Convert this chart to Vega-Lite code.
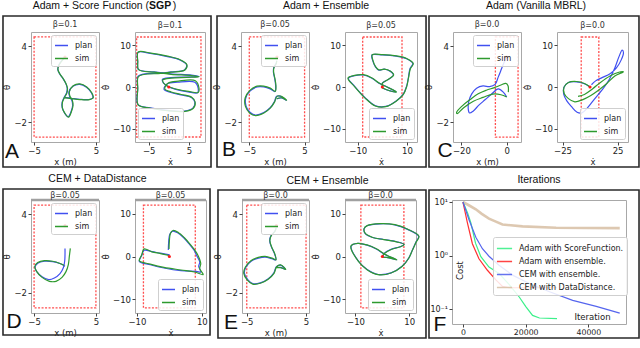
{
"$schema":"https://vega.github.io/schema/vega-lite/v6.json",
"background":"white",
"padding":{"left":1,"top":0,"right":1,"bottom":1},
"config":{
 "font":"DejaVu Sans",
 "view":{"stroke":"#a8a8a8","strokeWidth":1},
 "axis":{"grid":false,"domain":false,"labelOverlap":false,"labelFontSize":8.5,"titleFontSize":8.5,"titleFontWeight":"normal","labelColor":"#222","titleColor":"#222","tickColor":"#444","tickSize":3,"labelPadding":1.5,"titlePadding":2,"labelFont":"DejaVu Sans","titleFont":"DejaVu Sans"},
 "title":{"fontSize":10.5,"fontWeight":"normal","color":"#111","offset":4,"font":"Liberation Sans"},
 "text":{"font":"DejaVu Sans"},
 "legend":{"title":null,"symbolType":"stroke","symbolStrokeWidth":1.5,"symbolSize":170,"labelFontSize":8,"labelFont":"DejaVu Sans","labelColor":"#222","strokeColor":"#cfcfcf","fillColor":"rgba(255,255,255,0.85)","padding":3,"cornerRadius":2,"offset":3,"rowPadding":1,"labelOffset":6}
},
"datasets":{
"bounds":[
{"p":"A1","x1":-5,"x2":5,"y1":-3.1416,"y2":4.7124,"tx":0,"ty":3.1416},
{"p":"A2","x1":-8,"x2":8,"y1":-12,"y2":12,"tx":0,"ty":0},
{"p":"B1","x1":-5,"x2":5,"y1":-3.1416,"y2":4.7124,"tx":0,"ty":3.1416},
{"p":"B2","x1":-8,"x2":8,"y1":-12,"y2":12,"tx":0,"ty":0},
{"p":"C1","x1":-5,"x2":5,"y1":-3.1416,"y2":4.7124,"tx":0,"ty":3.1416},
{"p":"C2","x1":-8,"x2":8,"y1":-12,"y2":12,"tx":0,"ty":0},
{"p":"D1","x1":-5,"x2":5,"y1":-3.1416,"y2":4.7124,"tx":0,"ty":3.1416},
{"p":"D2","x1":-8,"x2":8,"y1":-12,"y2":12,"tx":0,"ty":0},
{"p":"E1","x1":-5,"x2":5,"y1":-3.1416,"y2":4.7124,"tx":0,"ty":3.1416},
{"p":"E2","x1":-8,"x2":8,"y1":-12,"y2":12,"tx":0,"ty":0}
],
"traj":[
{"p":"A1","s":"plan","i":0,"x":0,"y":3.14},{"p":"A1","s":"plan","i":1,"x":-0.46,"y":2.9},{"p":"A1","s":"plan","i":2,"x":-1.01,"y":2.52},{"p":"A1","s":"plan","i":3,"x":-1.17,"y":2.17},{"p":"A1","s":"plan","i":4,"x":-0.85,"y":1.81},{"p":"A1","s":"plan","i":5,"x":-0.3,"y":1.43},{"p":"A1","s":"plan","i":6,"x":0.14,"y":1.05},{"p":"A1","s":"plan","i":7,"x":0.36,"y":0.69},{"p":"A1","s":"plan","i":8,"x":0.25,"y":0.31},{"p":"A1","s":"plan","i":9,"x":-0.14,"y":-0.03},{"p":"A1","s":"plan","i":10,"x":-0.46,"y":-0.41},{"p":"A1","s":"plan","i":11,"x":-0.46,"y":-0.84},{"p":"A1","s":"plan","i":12,"x":-0.08,"y":-1.25},{"p":"A1","s":"plan","i":13,"x":0.52,"y":-1.55},{"p":"A1","s":"plan","i":14,"x":0.96,"y":-1.17},{"p":"A1","s":"plan","i":15,"x":1.23,"y":-0.69},{"p":"A1","s":"plan","i":16,"x":1.12,"y":-0.28},{"p":"A1","s":"plan","i":17,"x":0.74,"y":0.05},{"p":"A1","s":"plan","i":18,"x":0.63,"y":0.38},{"p":"A1","s":"plan","i":19,"x":1.28,"y":0.84},{"p":"A1","s":"plan","i":20,"x":2.38,"y":0.99},{"p":"A1","s":"plan","i":21,"x":3.47,"y":0.76},{"p":"A1","s":"plan","i":22,"x":4.29,"y":0.31},{"p":"A1","s":"plan","i":23,"x":4.51,"y":-0.08},{"p":"A1","s":"plan","i":24,"x":3.74,"y":-0.2},{"p":"A1","s":"plan","i":25,"x":2.38,"y":-0.18},{"p":"A1","s":"plan","i":26,"x":1.01,"y":-0.1},{"p":"A1","s":"plan","i":27,"x":-0.19,"y":-0.03},
{"p":"A2","s":"plan","i":0,"x":0,"y":0},{"p":"A2","s":"plan","i":1,"x":-1.36,"y":1.0},{"p":"A2","s":"plan","i":2,"x":-1.62,"y":1.77},{"p":"A2","s":"plan","i":3,"x":0.51,"y":2.23},{"p":"A2","s":"plan","i":4,"x":4.34,"y":2.38},{"p":"A2","s":"plan","i":5,"x":7.49,"y":2.54},{"p":"A2","s":"plan","i":6,"x":5.62,"y":2.85},{"p":"A2","s":"plan","i":7,"x":0.51,"y":3.15},{"p":"A2","s":"plan","i":8,"x":-3.74,"y":3.62},{"p":"A2","s":"plan","i":9,"x":-7.57,"y":4.23},{"p":"A2","s":"plan","i":10,"x":-7.74,"y":6.15},{"p":"A2","s":"plan","i":11,"x":-7.66,"y":8.31},{"p":"A2","s":"plan","i":12,"x":-4.6,"y":8.08},{"p":"A2","s":"plan","i":13,"x":-0.34,"y":7.31},{"p":"A2","s":"plan","i":14,"x":2.64,"y":6.54},{"p":"A2","s":"plan","i":15,"x":4.43,"y":5.31},{"p":"A2","s":"plan","i":16,"x":3.91,"y":4.08},{"p":"A2","s":"plan","i":17,"x":0.51,"y":3.62},{"p":"A2","s":"plan","i":18,"x":-2.04,"y":3.31},{"p":"A2","s":"plan","i":19,"x":-6.3,"y":3.08},{"p":"A2","s":"plan","i":20,"x":-7.66,"y":2.54},{"p":"A2","s":"plan","i":21,"x":-7.74,"y":-0.38},{"p":"A2","s":"plan","i":22,"x":-7.66,"y":-4.23},{"p":"A2","s":"plan","i":23,"x":-4.6,"y":-5.0},{"p":"A2","s":"plan","i":24,"x":-0.34,"y":-5.62},{"p":"A2","s":"plan","i":25,"x":3.91,"y":-5.77},{"p":"A2","s":"plan","i":26,"x":6.04,"y":-5.0},{"p":"A2","s":"plan","i":27,"x":6.47,"y":-3.62},{"p":"A2","s":"plan","i":28,"x":5.62,"y":-2.54},{"p":"A2","s":"plan","i":29,"x":3.06,"y":-1.92},{"p":"A2","s":"plan","i":30,"x":0.51,"y":-1.31},{"p":"A2","s":"plan","i":31,"x":-1.19,"y":-0.54},{"p":"A2","s":"plan","i":32,"x":-0.34,"y":0.77},{"p":"A2","s":"plan","i":33,"x":2.21,"y":1.15},{"p":"A2","s":"plan","i":34,"x":6.47,"y":1.15},{"p":"A2","s":"plan","i":35,"x":7.32,"y":-0.38},{"p":"A2","s":"plan","i":36,"x":7.15,"y":-1.38},{"p":"A2","s":"plan","i":37,"x":4.77,"y":-1.15},{"p":"A2","s":"plan","i":38,"x":2.21,"y":-0.69},{"p":"A2","s":"plan","i":39,"x":0.26,"y":-0.08},
{"p":"B1","s":"plan","i":0,"x":-0.06,"y":2.85},{"p":"B1","s":"plan","i":1,"x":-0.12,"y":2.67},{"p":"B1","s":"plan","i":2,"x":-0.58,"y":2.29},{"p":"B1","s":"plan","i":3,"x":-0.64,"y":1.96},{"p":"B1","s":"plan","i":4,"x":-0.41,"y":1.45},{"p":"B1","s":"plan","i":5,"x":-0.23,"y":0.89},{"p":"B1","s":"plan","i":6,"x":-0.35,"y":0.43},{"p":"B1","s":"plan","i":7,"x":-1.22,"y":0.64},{"p":"B1","s":"plan","i":8,"x":-2.38,"y":0.79},{"p":"B1","s":"plan","i":9,"x":-3.55,"y":0.79},{"p":"B1","s":"plan","i":10,"x":-4.83,"y":0.48},{"p":"B1","s":"plan","i":11,"x":-5.64,"y":-0.08},{"p":"B1","s":"plan","i":12,"x":-5.58,"y":-0.71},{"p":"B1","s":"plan","i":13,"x":-4.83,"y":-1.22},{"p":"B1","s":"plan","i":14,"x":-3.84,"y":-1.42},{"p":"B1","s":"plan","i":15,"x":-2.38,"y":-1.22},{"p":"B1","s":"plan","i":16,"x":-1.22,"y":-0.84},{"p":"B1","s":"plan","i":17,"x":-0.47,"y":-0.38},{"p":"B1","s":"plan","i":18,"x":-0.06,"y":0.05},{"p":"B1","s":"plan","i":19,"x":0.64,"y":0.05},{"p":"B1","s":"plan","i":20,"x":1.69,"y":-0.25},{"p":"B1","s":"plan","i":21,"x":0.81,"y":-0.08},{"p":"B1","s":"plan","i":22,"x":-0.06,"y":-0.15},
{"p":"B2","s":"plan","i":0,"x":0,"y":0},{"p":"B2","s":"plan","i":1,"x":0,"y":0.93},{"p":"B2","s":"plan","i":2,"x":2.11,"y":1.71},{"p":"B2","s":"plan","i":3,"x":4.51,"y":2.88},{"p":"B2","s":"plan","i":4,"x":3.1,"y":3.81},{"p":"B2","s":"plan","i":5,"x":0.7,"y":4.28},{"p":"B2","s":"plan","i":6,"x":-1.41,"y":4.05},{"p":"B2","s":"plan","i":7,"x":-2.82,"y":4.82},{"p":"B2","s":"plan","i":8,"x":-3.94,"y":6.38},{"p":"B2","s":"plan","i":9,"x":-4.23,"y":7.7},{"p":"B2","s":"plan","i":10,"x":0,"y":7.7},{"p":"B2","s":"plan","i":11,"x":5.63,"y":7.39},{"p":"B2","s":"plan","i":12,"x":9.86,"y":6.77},{"p":"B2","s":"plan","i":13,"x":12.39,"y":5.6},{"p":"B2","s":"plan","i":14,"x":11.27,"y":4.44},{"p":"B2","s":"plan","i":15,"x":10.56,"y":2.1},{"p":"B2","s":"plan","i":16,"x":9.86,"y":0.16},{"p":"B2","s":"plan","i":17,"x":8.45,"y":-1.79},{"p":"B2","s":"plan","i":18,"x":5.63,"y":-3.35},{"p":"B2","s":"plan","i":19,"x":1.41,"y":-4.67},{"p":"B2","s":"plan","i":20,"x":-2.82,"y":-4.51},{"p":"B2","s":"plan","i":21,"x":-7.04,"y":-2.57},{"p":"B2","s":"plan","i":22,"x":-11.27,"y":0.16},{"p":"B2","s":"plan","i":23,"x":-13.8,"y":2.1},{"p":"B2","s":"plan","i":24,"x":-11.27,"y":2.72},{"p":"B2","s":"plan","i":25,"x":-7.75,"y":2.88},{"p":"B2","s":"plan","i":26,"x":-4.23,"y":2.1},{"p":"B2","s":"plan","i":27,"x":-1.41,"y":0.93},{"p":"B2","s":"plan","i":28,"x":1.41,"y":0.16},{"p":"B2","s":"plan","i":29,"x":5.63,"y":-1.17},{"p":"B2","s":"plan","i":30,"x":2.82,"y":-0.86},{"p":"B2","s":"plan","i":31,"x":0,"y":-0.23},
{"p":"C1","s":"plan","i":0,"x":0,"y":3.14},{"p":"C1","s":"plan","i":1,"x":-1.14,"y":2.72},{"p":"C1","s":"plan","i":2,"x":-2.29,"y":2.21},{"p":"C1","s":"plan","i":3,"x":-3.71,"y":1.58},{"p":"C1","s":"plan","i":4,"x":-5.14,"y":0.99},{"p":"C1","s":"plan","i":5,"x":-7.57,"y":0.81},{"p":"C1","s":"plan","i":6,"x":-10.43,"y":0.87},{"p":"C1","s":"plan","i":7,"x":-13.29,"y":0.69},{"p":"C1","s":"plan","i":8,"x":-15.43,"y":0.25},{"p":"C1","s":"plan","i":9,"x":-16.71,"y":-0.33},{"p":"C1","s":"plan","i":10,"x":-17.0,"y":-0.89},{"p":"C1","s":"plan","i":11,"x":-16.43,"y":-1.25},{"p":"C1","s":"plan","i":12,"x":-14.71,"y":-1.09},{"p":"C1","s":"plan","i":13,"x":-12.29,"y":-0.64},{"p":"C1","s":"plan","i":14,"x":-9.43,"y":-0.2},{"p":"C1","s":"plan","i":15,"x":-6.57,"y":0.25},{"p":"C1","s":"plan","i":16,"x":-3.71,"y":0.64},{"p":"C1","s":"plan","i":17,"x":-1.43,"y":0.36},{"p":"C1","s":"plan","i":18,"x":0,"y":0},
{"p":"C2","s":"plan","i":0,"x":0,"y":0},{"p":"C2","s":"plan","i":1,"x":-5.09,"y":0.78},{"p":"C2","s":"plan","i":2,"x":-12.35,"y":1.24},{"p":"C2","s":"plan","i":3,"x":-19.62,"y":1.09},{"p":"C2","s":"plan","i":4,"x":-23.69,"y":-0.08},{"p":"C2","s":"plan","i":5,"x":-23.98,"y":-1.63},{"p":"C2","s":"plan","i":6,"x":-21.08,"y":-3.33},{"p":"C2","s":"plan","i":7,"x":-16.72,"y":-4.73},{"p":"C2","s":"plan","i":8,"x":-11.77,"y":-6.05},{"p":"C2","s":"plan","i":9,"x":-7.41,"y":-6.2},{"p":"C2","s":"plan","i":10,"x":-2.76,"y":-5.12},{"p":"C2","s":"plan","i":11,"x":2.76,"y":-3.33},{"p":"C2","s":"plan","i":12,"x":7.99,"y":-1.63},{"p":"C2","s":"plan","i":13,"x":12.35,"y":-0.23},{"p":"C2","s":"plan","i":14,"x":17.59,"y":1.86},{"p":"C2","s":"plan","i":15,"x":22.53,"y":4.57},{"p":"C2","s":"plan","i":16,"x":26.31,"y":7.29},{"p":"C2","s":"plan","i":17,"x":29.22,"y":8.84},{"p":"C2","s":"plan","i":18,"x":30.38,"y":8.29},{"p":"C2","s":"plan","i":19,"x":28.34,"y":6.51},{"p":"C2","s":"plan","i":20,"x":23.98,"y":4.57},{"p":"C2","s":"plan","i":21,"x":18.17,"y":3.18},{"p":"C2","s":"plan","i":22,"x":10.9,"y":2.25},{"p":"C2","s":"plan","i":23,"x":5.09,"y":1.47},{"p":"C2","s":"plan","i":24,"x":1.31,"y":0.54},
{"p":"D1","s":"plan","i":0,"x":0,"y":1.4},{"p":"D1","s":"plan","i":1,"x":0,"y":0.91},{"p":"D1","s":"plan","i":2,"x":-0.05,"y":0.42},{"p":"D1","s":"plan","i":3,"x":-0.27,"y":-0.07},{"p":"D1","s":"plan","i":4,"x":-0.81,"y":-0.52},{"p":"D1","s":"plan","i":5,"x":-1.72,"y":-0.86},{"p":"D1","s":"plan","i":6,"x":-2.63,"y":-0.98},{"p":"D1","s":"plan","i":7,"x":-3.71,"y":-0.76},{"p":"D1","s":"plan","i":8,"x":-4.57,"y":-0.37},{"p":"D1","s":"plan","i":9,"x":-4.84,"y":-0.02},{"p":"D1","s":"plan","i":10,"x":-4.41,"y":0.27},{"p":"D1","s":"plan","i":11,"x":-3.33,"y":0.42},{"p":"D1","s":"plan","i":12,"x":-1.99,"y":0.39},{"p":"D1","s":"plan","i":13,"x":-0.81,"y":0.25},{"p":"D1","s":"plan","i":14,"x":0,"y":0.05},
{"p":"D2","s":"plan","i":0,"x":0.11,"y":0.38},{"p":"D2","s":"plan","i":1,"x":-2.74,"y":0.77},{"p":"D2","s":"plan","i":2,"x":-5.37,"y":1.15},{"p":"D2","s":"plan","i":3,"x":-7.79,"y":1.46},{"p":"D2","s":"plan","i":4,"x":-8.53,"y":0.23},{"p":"D2","s":"plan","i":5,"x":-9.26,"y":-1.15},{"p":"D2","s":"plan","i":6,"x":-5.89,"y":-1.92},{"p":"D2","s":"plan","i":7,"x":-1.68,"y":-2.69},{"p":"D2","s":"plan","i":8,"x":3.58,"y":-3.31},{"p":"D2","s":"plan","i":9,"x":8.32,"y":-3.46},{"p":"D2","s":"plan","i":10,"x":9.68,"y":-3.62},{"p":"D2","s":"plan","i":11,"x":9.05,"y":-2.31},{"p":"D2","s":"plan","i":12,"x":9.37,"y":-1.31},{"p":"D2","s":"plan","i":13,"x":8.42,"y":0.23},{"p":"D2","s":"plan","i":14,"x":7.58,"y":1.54},{"p":"D2","s":"plan","i":15,"x":6.21,"y":2.85},{"p":"D2","s":"plan","i":16,"x":4.42,"y":4.38},{"p":"D2","s":"plan","i":17,"x":2.53,"y":5.54},{"p":"D2","s":"plan","i":18,"x":0.95,"y":5.92},{"p":"D2","s":"plan","i":19,"x":0.11,"y":5.15},{"p":"D2","s":"plan","i":20,"x":-0.21,"y":3.46},{"p":"D2","s":"plan","i":21,"x":-0.32,"y":1.54},
{"p":"E1","s":"plan","i":0,"x":-0.06,"y":2.95},{"p":"E1","s":"plan","i":1,"x":-0.28,"y":2.7},{"p":"E1","s":"plan","i":2,"x":-0.91,"y":2.38},{"p":"E1","s":"plan","i":3,"x":-1.14,"y":2.01},{"p":"E1","s":"plan","i":4,"x":-0.85,"y":1.52},{"p":"E1","s":"plan","i":5,"x":-0.34,"y":1.03},{"p":"E1","s":"plan","i":6,"x":-0.11,"y":0.54},{"p":"E1","s":"plan","i":7,"x":-0.74,"y":0.61},{"p":"E1","s":"plan","i":8,"x":-1.88,"y":0.74},{"p":"E1","s":"plan","i":9,"x":-3.01,"y":0.66},{"p":"E1","s":"plan","i":10,"x":-4.26,"y":0.42},{"p":"E1","s":"plan","i":11,"x":-5.17,"y":-0.05},{"p":"E1","s":"plan","i":12,"x":-5.4,"y":-0.49},{"p":"E1","s":"plan","i":13,"x":-4.83,"y":-0.98},{"p":"E1","s":"plan","i":14,"x":-3.98,"y":-1.28},{"p":"E1","s":"plan","i":15,"x":-2.73,"y":-1.23},{"p":"E1","s":"plan","i":16,"x":-1.42,"y":-0.93},{"p":"E1","s":"plan","i":17,"x":-0.45,"y":-0.49},{"p":"E1","s":"plan","i":18,"x":0,"y":0},{"p":"E1","s":"plan","i":19,"x":0.68,"y":0.12},{"p":"E1","s":"plan","i":20,"x":1.53,"y":-0.2},{"p":"E1","s":"plan","i":21,"x":0.68,"y":-0.05},{"p":"E1","s":"plan","i":22,"x":0,"y":-0.05},
{"p":"E2","s":"plan","i":0,"x":0,"y":0},{"p":"E2","s":"plan","i":1,"x":0.75,"y":0.76},{"p":"E2","s":"plan","i":2,"x":3.22,"y":1.68},{"p":"E2","s":"plan","i":3,"x":6.64,"y":2.29},{"p":"E2","s":"plan","i":4,"x":8.01,"y":2.82},{"p":"E2","s":"plan","i":5,"x":5.27,"y":3.44},{"p":"E2","s":"plan","i":6,"x":0.48,"y":3.97},{"p":"E2","s":"plan","i":7,"x":-3.63,"y":4.43},{"p":"E2","s":"plan","i":8,"x":-6.37,"y":5.34},{"p":"E2","s":"plan","i":9,"x":-6.78,"y":6.49},{"p":"E2","s":"plan","i":10,"x":-5.68,"y":7.18},{"p":"E2","s":"plan","i":11,"x":-0.89,"y":7.63},{"p":"E2","s":"plan","i":12,"x":4.59,"y":7.4},{"p":"E2","s":"plan","i":13,"x":9.38,"y":6.34},{"p":"E2","s":"plan","i":14,"x":13.49,"y":4.73},{"p":"E2","s":"plan","i":15,"x":12.53,"y":3.44},{"p":"E2","s":"plan","i":16,"x":11.16,"y":1.53},{"p":"E2","s":"plan","i":17,"x":9.79,"y":-0.38},{"p":"E2","s":"plan","i":18,"x":7.33,"y":-2.29},{"p":"E2","s":"plan","i":19,"x":3.22,"y":-3.82},{"p":"E2","s":"plan","i":20,"x":-1.58,"y":-4.2},{"p":"E2","s":"plan","i":21,"x":-5.68,"y":-3.05},{"p":"E2","s":"plan","i":22,"x":-8.84,"y":-1.15},{"p":"E2","s":"plan","i":23,"x":-11.58,"y":2.44},{"p":"E2","s":"plan","i":24,"x":-9.11,"y":3.05},{"p":"E2","s":"plan","i":25,"x":-5.68,"y":2.67},{"p":"E2","s":"plan","i":26,"x":-2.26,"y":1.76},{"p":"E2","s":"plan","i":27,"x":0.75,"y":0.53},{"p":"E2","s":"plan","i":28,"x":3.9,"y":-0.38},{"p":"E2","s":"plan","i":29,"x":5.27,"y":-0.76},{"p":"E2","s":"plan","i":30,"x":2.53,"y":-0.31},{"p":"E2","s":"plan","i":31,"x":0,"y":-0.15},
{"p":"A1","s":"sim","i":0,"x":0.02,"y":3.1},{"p":"A1","s":"sim","i":1,"x":-0.44,"y":2.88},{"p":"A1","s":"sim","i":2,"x":-0.98,"y":2.5},{"p":"A1","s":"sim","i":3,"x":-1.14,"y":2.15},{"p":"A1","s":"sim","i":4,"x":-0.82,"y":1.8},{"p":"A1","s":"sim","i":5,"x":-0.27,"y":1.42},{"p":"A1","s":"sim","i":6,"x":0.17,"y":1.04},{"p":"A1","s":"sim","i":7,"x":0.4,"y":0.68},{"p":"A1","s":"sim","i":8,"x":0.3,"y":0.3},{"p":"A1","s":"sim","i":9,"x":-0.1,"y":-0.05},{"p":"A1","s":"sim","i":10,"x":-0.42,"y":-0.43},{"p":"A1","s":"sim","i":11,"x":-0.42,"y":-0.86},{"p":"A1","s":"sim","i":12,"x":-0.03,"y":-1.27},{"p":"A1","s":"sim","i":13,"x":0.58,"y":-1.58},{"p":"A1","s":"sim","i":14,"x":1.03,"y":-1.15},{"p":"A1","s":"sim","i":15,"x":1.3,"y":-0.66},{"p":"A1","s":"sim","i":16,"x":1.18,"y":-0.25},{"p":"A1","s":"sim","i":17,"x":0.8,"y":0.07},{"p":"A1","s":"sim","i":18,"x":0.7,"y":0.4},{"p":"A1","s":"sim","i":19,"x":1.33,"y":0.88},{"p":"A1","s":"sim","i":20,"x":2.42,"y":1.03},{"p":"A1","s":"sim","i":21,"x":3.52,"y":0.79},{"p":"A1","s":"sim","i":22,"x":4.33,"y":0.33},{"p":"A1","s":"sim","i":23,"x":4.56,"y":-0.06},{"p":"A1","s":"sim","i":24,"x":3.78,"y":-0.22},{"p":"A1","s":"sim","i":25,"x":2.4,"y":-0.2},{"p":"A1","s":"sim","i":26,"x":1.0,"y":-0.12},{"p":"A1","s":"sim","i":27,"x":-0.2,"y":-0.05},
{"p":"A2","s":"sim","i":0,"x":0,"y":0},{"p":"A2","s":"sim","i":1,"x":-1.3,"y":0.95},{"p":"A2","s":"sim","i":2,"x":-1.5,"y":1.7},{"p":"A2","s":"sim","i":3,"x":0.6,"y":2.15},{"p":"A2","s":"sim","i":4,"x":4.4,"y":2.3},{"p":"A2","s":"sim","i":5,"x":7.6,"y":2.45},{"p":"A2","s":"sim","i":6,"x":5.7,"y":2.75},{"p":"A2","s":"sim","i":7,"x":0.6,"y":3.05},{"p":"A2","s":"sim","i":8,"x":-3.6,"y":3.55},{"p":"A2","s":"sim","i":9,"x":-7.5,"y":4.15},{"p":"A2","s":"sim","i":10,"x":-7.7,"y":6.1},{"p":"A2","s":"sim","i":11,"x":-7.6,"y":8.4},{"p":"A2","s":"sim","i":12,"x":-4.5,"y":8.15},{"p":"A2","s":"sim","i":13,"x":-0.3,"y":7.4},{"p":"A2","s":"sim","i":14,"x":2.7,"y":6.6},{"p":"A2","s":"sim","i":15,"x":4.5,"y":5.35},{"p":"A2","s":"sim","i":16,"x":4.0,"y":4.1},{"p":"A2","s":"sim","i":17,"x":0.6,"y":3.55},{"p":"A2","s":"sim","i":18,"x":-2.0,"y":3.25},{"p":"A2","s":"sim","i":19,"x":-6.2,"y":3.0},{"p":"A2","s":"sim","i":20,"x":-7.6,"y":2.45},{"p":"A2","s":"sim","i":21,"x":-7.7,"y":-0.4},{"p":"A2","s":"sim","i":22,"x":-7.6,"y":-4.3},{"p":"A2","s":"sim","i":23,"x":-4.5,"y":-5.1},{"p":"A2","s":"sim","i":24,"x":-0.3,"y":-5.7},{"p":"A2","s":"sim","i":25,"x":4.0,"y":-5.85},{"p":"A2","s":"sim","i":26,"x":6.1,"y":-5.1},{"p":"A2","s":"sim","i":27,"x":6.55,"y":-3.6},{"p":"A2","s":"sim","i":28,"x":5.7,"y":-2.45},{"p":"A2","s":"sim","i":29,"x":3.1,"y":-1.8},{"p":"A2","s":"sim","i":30,"x":0.6,"y":-1.2},{"p":"A2","s":"sim","i":31,"x":-1.0,"y":-0.45},{"p":"A2","s":"sim","i":32,"x":-0.2,"y":0.9},{"p":"A2","s":"sim","i":33,"x":2.4,"y":1.4},{"p":"A2","s":"sim","i":34,"x":6.6,"y":1.5},{"p":"A2","s":"sim","i":35,"x":7.5,"y":-0.2},{"p":"A2","s":"sim","i":36,"x":7.3,"y":-1.3},{"p":"A2","s":"sim","i":37,"x":4.9,"y":-1.05},{"p":"A2","s":"sim","i":38,"x":2.3,"y":-0.6},{"p":"A2","s":"sim","i":39,"x":0.3,"y":-0.05},
{"p":"B1","s":"sim","i":0,"x":-0.04,"y":2.85},{"p":"B1","s":"sim","i":1,"x":-0.1,"y":2.66},{"p":"B1","s":"sim","i":2,"x":-0.55,"y":2.28},{"p":"B1","s":"sim","i":3,"x":-0.6,"y":1.95},{"p":"B1","s":"sim","i":4,"x":-0.36,"y":1.44},{"p":"B1","s":"sim","i":5,"x":-0.18,"y":0.88},{"p":"B1","s":"sim","i":6,"x":-0.3,"y":0.45},{"p":"B1","s":"sim","i":7,"x":-1.2,"y":0.7},{"p":"B1","s":"sim","i":8,"x":-2.4,"y":0.86},{"p":"B1","s":"sim","i":9,"x":-3.6,"y":0.85},{"p":"B1","s":"sim","i":10,"x":-4.9,"y":0.52},{"p":"B1","s":"sim","i":11,"x":-5.75,"y":-0.08},{"p":"B1","s":"sim","i":12,"x":-5.7,"y":-0.74},{"p":"B1","s":"sim","i":13,"x":-4.9,"y":-1.27},{"p":"B1","s":"sim","i":14,"x":-3.85,"y":-1.46},{"p":"B1","s":"sim","i":15,"x":-2.35,"y":-1.25},{"p":"B1","s":"sim","i":16,"x":-1.17,"y":-0.85},{"p":"B1","s":"sim","i":17,"x":-0.42,"y":-0.38},{"p":"B1","s":"sim","i":18,"x":0,"y":0.05},{"p":"B1","s":"sim","i":19,"x":0.7,"y":0.08},{"p":"B1","s":"sim","i":20,"x":1.75,"y":-0.25},{"p":"B1","s":"sim","i":21,"x":0.85,"y":-0.06},{"p":"B1","s":"sim","i":22,"x":0,"y":-0.12},
{"p":"B2","s":"sim","i":0,"x":0,"y":0},{"p":"B2","s":"sim","i":1,"x":0.1,"y":0.95},{"p":"B2","s":"sim","i":2,"x":2.2,"y":1.75},{"p":"B2","s":"sim","i":3,"x":4.6,"y":2.9},{"p":"B2","s":"sim","i":4,"x":3.2,"y":3.85},{"p":"B2","s":"sim","i":5,"x":0.8,"y":4.3},{"p":"B2","s":"sim","i":6,"x":-1.3,"y":4.1},{"p":"B2","s":"sim","i":7,"x":-2.7,"y":4.85},{"p":"B2","s":"sim","i":8,"x":-3.85,"y":6.4},{"p":"B2","s":"sim","i":9,"x":-4.1,"y":7.75},{"p":"B2","s":"sim","i":10,"x":0.1,"y":7.75},{"p":"B2","s":"sim","i":11,"x":5.7,"y":7.45},{"p":"B2","s":"sim","i":12,"x":9.9,"y":6.85},{"p":"B2","s":"sim","i":13,"x":12.6,"y":5.6},{"p":"B2","s":"sim","i":14,"x":11.4,"y":4.4},{"p":"B2","s":"sim","i":15,"x":10.6,"y":2.05},{"p":"B2","s":"sim","i":16,"x":9.9,"y":0.1},{"p":"B2","s":"sim","i":17,"x":8.5,"y":-1.85},{"p":"B2","s":"sim","i":18,"x":5.6,"y":-3.4},{"p":"B2","s":"sim","i":19,"x":1.4,"y":-4.72},{"p":"B2","s":"sim","i":20,"x":-2.9,"y":-4.55},{"p":"B2","s":"sim","i":21,"x":-7.1,"y":-2.6},{"p":"B2","s":"sim","i":22,"x":-11.3,"y":0.1},{"p":"B2","s":"sim","i":23,"x":-14.0,"y":2.15},{"p":"B2","s":"sim","i":24,"x":-11.3,"y":2.8},{"p":"B2","s":"sim","i":25,"x":-7.7,"y":2.95},{"p":"B2","s":"sim","i":26,"x":-4.2,"y":2.15},{"p":"B2","s":"sim","i":27,"x":-1.35,"y":0.95},{"p":"B2","s":"sim","i":28,"x":1.5,"y":0.1},{"p":"B2","s":"sim","i":29,"x":5.75,"y":-1.2},{"p":"B2","s":"sim","i":30,"x":2.9,"y":-0.9},{"p":"B2","s":"sim","i":31,"x":0.05,"y":-0.25},
{"p":"C1","s":"sim","i":0,"x":0.71,"y":0.38},{"p":"C1","s":"sim","i":1,"x":0.57,"y":0.89},{"p":"C1","s":"sim","i":2,"x":-0.43,"y":1.07},{"p":"C1","s":"sim","i":3,"x":-2.57,"y":0.94},{"p":"C1","s":"sim","i":4,"x":-5.43,"y":0.74},{"p":"C1","s":"sim","i":5,"x":-9.0,"y":0.53},{"p":"C1","s":"sim","i":6,"x":-12.57,"y":0.25},{"p":"C1","s":"sim","i":7,"x":-16.14,"y":-0.2},{"p":"C1","s":"sim","i":8,"x":-19.71,"y":-0.71},{"p":"C1","s":"sim","i":9,"x":-22.14,"y":-1.22},{"p":"C1","s":"sim","i":10,"x":-21.86,"y":-1.3},{"p":"C1","s":"sim","i":11,"x":-19.0,"y":-0.84},{"p":"C1","s":"sim","i":12,"x":-14.71,"y":-0.33},{"p":"C1","s":"sim","i":13,"x":-10.43,"y":-0.03},{"p":"C1","s":"sim","i":14,"x":-6.14,"y":0.23},{"p":"C1","s":"sim","i":15,"x":-2.57,"y":0.18},{"p":"C1","s":"sim","i":16,"x":0,"y":0},
{"p":"C2","s":"sim","i":0,"x":0,"y":0},{"p":"C2","s":"sim","i":1,"x":-5.09,"y":0.85},{"p":"C2","s":"sim","i":2,"x":-12.35,"y":1.32},{"p":"C2","s":"sim","i":3,"x":-19.62,"y":1.09},{"p":"C2","s":"sim","i":4,"x":-23.69,"y":-0.08},{"p":"C2","s":"sim","i":5,"x":-23.4,"y":-1.63},{"p":"C2","s":"sim","i":6,"x":-19.62,"y":-2.79},{"p":"C2","s":"sim","i":7,"x":-13.81,"y":-3.57},{"p":"C2","s":"sim","i":8,"x":-6.54,"y":-3.02},{"p":"C2","s":"sim","i":9,"x":0.73,"y":-2.02},{"p":"C2","s":"sim","i":10,"x":7.99,"y":-0.7},{"p":"C2","s":"sim","i":11,"x":15.26,"y":0.85},{"p":"C2","s":"sim","i":12,"x":22.53,"y":2.64},{"p":"C2","s":"sim","i":13,"x":30.38,"y":3.64},{"p":"C2","s":"sim","i":14,"x":25.44,"y":3.49},{"p":"C2","s":"sim","i":15,"x":18.17,"y":2.64},{"p":"C2","s":"sim","i":16,"x":9.45,"y":1.09},{"p":"C2","s":"sim","i":17,"x":2.18,"y":-0.47},{"p":"C2","s":"sim","i":18,"x":-5.09,"y":-1.78},{"p":"C2","s":"sim","i":19,"x":-10.9,"y":-2.25},
{"p":"D1","s":"sim","i":0,"x":0.86,"y":1.4},{"p":"D1","s":"sim","i":1,"x":0.7,"y":0.79},{"p":"D1","s":"sim","i":2,"x":0.54,"y":0.17},{"p":"D1","s":"sim","i":3,"x":0.16,"y":-0.37},{"p":"D1","s":"sim","i":4,"x":-0.48,"y":-0.81},{"p":"D1","s":"sim","i":5,"x":-1.45,"y":-1.11},{"p":"D1","s":"sim","i":6,"x":-2.53,"y":-1.11},{"p":"D1","s":"sim","i":7,"x":-3.71,"y":-0.81},{"p":"D1","s":"sim","i":8,"x":-4.57,"y":-0.37},{"p":"D1","s":"sim","i":9,"x":-4.89,"y":0.02},{"p":"D1","s":"sim","i":10,"x":-4.41,"y":0.32},{"p":"D1","s":"sim","i":11,"x":-3.33,"y":0.47},{"p":"D1","s":"sim","i":12,"x":-1.99,"y":0.42},{"p":"D1","s":"sim","i":13,"x":-0.81,"y":0.25},{"p":"D1","s":"sim","i":14,"x":-0.11,"y":0.1},
{"p":"D2","s":"sim","i":0,"x":-0.11,"y":0.23},{"p":"D2","s":"sim","i":1,"x":-2.74,"y":0.69},{"p":"D2","s":"sim","i":2,"x":-5.37,"y":1.08},{"p":"D2","s":"sim","i":3,"x":-7.79,"y":1.77},{"p":"D2","s":"sim","i":4,"x":-8.53,"y":0.38},{"p":"D2","s":"sim","i":5,"x":-9.26,"y":-1.0},{"p":"D2","s":"sim","i":6,"x":-5.89,"y":-1.77},{"p":"D2","s":"sim","i":7,"x":-1.68,"y":-2.54},{"p":"D2","s":"sim","i":8,"x":3.58,"y":-3.15},{"p":"D2","s":"sim","i":9,"x":7.79,"y":-3.62},{"p":"D2","s":"sim","i":10,"x":10.42,"y":-4.23},{"p":"D2","s":"sim","i":11,"x":9.37,"y":-2.85},{"p":"D2","s":"sim","i":12,"x":9.68,"y":-1.62},{"p":"D2","s":"sim","i":13,"x":8.84,"y":0.23},{"p":"D2","s":"sim","i":14,"x":7.79,"y":1.54},{"p":"D2","s":"sim","i":15,"x":6.42,"y":2.85},{"p":"D2","s":"sim","i":16,"x":4.63,"y":4.38},{"p":"D2","s":"sim","i":17,"x":2.74,"y":5.62},{"p":"D2","s":"sim","i":18,"x":1.16,"y":6.08},{"p":"D2","s":"sim","i":19,"x":0.32,"y":5.38},{"p":"D2","s":"sim","i":20,"x":0,"y":3.62},{"p":"D2","s":"sim","i":21,"x":-0.11,"y":1.77},
{"p":"E1","s":"sim","i":0,"x":-0.05,"y":2.93},{"p":"E1","s":"sim","i":1,"x":-0.26,"y":2.69},{"p":"E1","s":"sim","i":2,"x":-0.88,"y":2.37},{"p":"E1","s":"sim","i":3,"x":-1.1,"y":2.0},{"p":"E1","s":"sim","i":4,"x":-0.8,"y":1.51},{"p":"E1","s":"sim","i":5,"x":-0.3,"y":1.02},{"p":"E1","s":"sim","i":6,"x":-0.07,"y":0.53},{"p":"E1","s":"sim","i":7,"x":-0.75,"y":0.66},{"p":"E1","s":"sim","i":8,"x":-1.9,"y":0.8},{"p":"E1","s":"sim","i":9,"x":-3.05,"y":0.72},{"p":"E1","s":"sim","i":10,"x":-4.3,"y":0.46},{"p":"E1","s":"sim","i":11,"x":-5.25,"y":-0.04},{"p":"E1","s":"sim","i":12,"x":-5.5,"y":-0.5},{"p":"E1","s":"sim","i":13,"x":-4.9,"y":-1.02},{"p":"E1","s":"sim","i":14,"x":-4.0,"y":-1.32},{"p":"E1","s":"sim","i":15,"x":-2.7,"y":-1.26},{"p":"E1","s":"sim","i":16,"x":-1.38,"y":-0.95},{"p":"E1","s":"sim","i":17,"x":-0.4,"y":-0.5},{"p":"E1","s":"sim","i":18,"x":0.05,"y":0},{"p":"E1","s":"sim","i":19,"x":0.72,"y":0.14},{"p":"E1","s":"sim","i":20,"x":1.58,"y":-0.2},{"p":"E1","s":"sim","i":21,"x":0.7,"y":-0.07},{"p":"E1","s":"sim","i":22,"x":0.02,"y":-0.07},
{"p":"E2","s":"sim","i":0,"x":0,"y":0},{"p":"E2","s":"sim","i":1,"x":0.8,"y":0.74},{"p":"E2","s":"sim","i":2,"x":3.3,"y":1.65},{"p":"E2","s":"sim","i":3,"x":6.7,"y":2.27},{"p":"E2","s":"sim","i":4,"x":8.1,"y":2.8},{"p":"E2","s":"sim","i":5,"x":5.3,"y":3.42},{"p":"E2","s":"sim","i":6,"x":0.5,"y":3.95},{"p":"E2","s":"sim","i":7,"x":-3.6,"y":4.45},{"p":"E2","s":"sim","i":8,"x":-6.35,"y":5.38},{"p":"E2","s":"sim","i":9,"x":-6.8,"y":6.52},{"p":"E2","s":"sim","i":10,"x":-5.65,"y":7.22},{"p":"E2","s":"sim","i":11,"x":-0.85,"y":7.67},{"p":"E2","s":"sim","i":12,"x":4.65,"y":7.43},{"p":"E2","s":"sim","i":13,"x":9.45,"y":6.36},{"p":"E2","s":"sim","i":14,"x":13.6,"y":4.72},{"p":"E2","s":"sim","i":15,"x":12.6,"y":3.42},{"p":"E2","s":"sim","i":16,"x":11.2,"y":1.5},{"p":"E2","s":"sim","i":17,"x":9.8,"y":-0.4},{"p":"E2","s":"sim","i":18,"x":7.3,"y":-2.32},{"p":"E2","s":"sim","i":19,"x":3.2,"y":-3.85},{"p":"E2","s":"sim","i":20,"x":-1.6,"y":-4.24},{"p":"E2","s":"sim","i":21,"x":-5.7,"y":-3.08},{"p":"E2","s":"sim","i":22,"x":-8.9,"y":-1.16},{"p":"E2","s":"sim","i":23,"x":-11.7,"y":2.46},{"p":"E2","s":"sim","i":24,"x":-9.15,"y":3.08},{"p":"E2","s":"sim","i":25,"x":-5.7,"y":2.7},{"p":"E2","s":"sim","i":26,"x":-2.25,"y":1.8},{"p":"E2","s":"sim","i":27,"x":0.8,"y":0.55},{"p":"E2","s":"sim","i":28,"x":4.0,"y":-0.38},{"p":"E2","s":"sim","i":29,"x":5.4,"y":-0.78},{"p":"E2","s":"sim","i":30,"x":2.6,"y":-0.33},{"p":"E2","s":"sim","i":31,"x":0.05,"y":-0.15}
],
"cost":[
{"m":"CEM with DataDistance.","it":0,"c":10},{"m":"CEM with DataDistance.","it":2000,"c":8.6},{"m":"CEM with DataDistance.","it":4100,"c":7.3},{"m":"CEM with DataDistance.","it":6000,"c":6.0},{"m":"CEM with DataDistance.","it":8300,"c":4.9},{"m":"CEM with DataDistance.","it":10500,"c":4.3},{"m":"CEM with DataDistance.","it":12600,"c":3.8},{"m":"CEM with DataDistance.","it":19000,"c":3.5},{"m":"CEM with DataDistance.","it":29700,"c":3.3},{"m":"CEM with DataDistance.","it":50000,"c":3.25},
{"m":"Adam with ScoreFunction.","it":0,"c":10},{"m":"Adam with ScoreFunction.","it":1500,"c":6.2},{"m":"Adam with ScoreFunction.","it":2500,"c":4.1},{"m":"Adam with ScoreFunction.","it":4000,"c":1.7},{"m":"Adam with ScoreFunction.","it":5700,"c":0.95},{"m":"Adam with ScoreFunction.","it":8300,"c":0.61},{"m":"Adam with ScoreFunction.","it":11500,"c":0.46},{"m":"Adam with ScoreFunction.","it":14700,"c":0.29},{"m":"Adam with ScoreFunction.","it":18000,"c":0.166},{"m":"Adam with ScoreFunction.","it":20100,"c":0.11},{"m":"Adam with ScoreFunction.","it":22200,"c":0.076},{"m":"Adam with ScoreFunction.","it":24400,"c":0.068},{"m":"Adam with ScoreFunction.","it":30000,"c":0.066},
{"m":"Adam with ensemble.","it":0,"c":10},{"m":"Adam with ensemble.","it":1400,"c":4.1},{"m":"Adam with ensemble.","it":3000,"c":1.66},{"m":"Adam with ensemble.","it":5100,"c":0.87},{"m":"Adam with ensemble.","it":7800,"c":0.53},{"m":"Adam with ensemble.","it":10500,"c":0.35},{"m":"Adam with ensemble.","it":12600,"c":0.265},{"m":"Adam with ensemble.","it":14700,"c":0.25},{"m":"Adam with ensemble.","it":30000,"c":0.25},
{"m":"CEM with ensemble.","it":0,"c":10},{"m":"CEM with ensemble.","it":1900,"c":4.7},{"m":"CEM with ensemble.","it":4100,"c":2.2},{"m":"CEM with ensemble.","it":6200,"c":1.34},{"m":"CEM with ensemble.","it":8300,"c":0.97},{"m":"CEM with ensemble.","it":11500,"c":0.66},{"m":"CEM with ensemble.","it":15800,"c":0.43},{"m":"CEM with ensemble.","it":21200,"c":0.3},{"m":"CEM with ensemble.","it":27600,"c":0.21},{"m":"CEM with ensemble.","it":35000,"c":0.145},{"m":"CEM with ensemble.","it":42500,"c":0.112},{"m":"CEM with ensemble.","it":50000,"c":0.084}
]
},
"spacing":4,
"resolve":{"scale":{"color":"independent"}},
"vconcat":[
{"hconcat":[
  {"width":68,"height":110,"layer":[
   {"data":{"name":"bounds"},"transform":[{"filter":"datum.p==='A1'"}],"mark":{"type":"rect","filled":false,"stroke":"#ff4d4d","strokeDash":[2,1.5],"strokeWidth":1.3},"encoding":{"x":{"field":"x1","type":"quantitative","scale":{"domain":[-5.5,5.5],"nice":false,"zero":false},"axis":{"values":[-5,0,5],"title":"x (m)"}},"x2":{"field":"x2"},"y":{"field":"y1","type":"quantitative","scale":{"domain":[-3.53,5.1],"nice":false,"zero":false},"axis":{"values":[-2,0,2,4],"title":"θ"}},"y2":{"field":"y2"}}},
   {"data":{"name":"traj"},"transform":[{"filter":"datum.p==='A1'"}],"mark":{"type":"line","interpolate":"catmull-rom","strokeWidth":1.2},"encoding":{"x":{"field":"x","type":"quantitative"},"y":{"field":"y","type":"quantitative"},"order":{"field":"i","type":"quantitative"},"color":{"field":"s","type":"nominal","scale":{"domain":["plan","sim"],"range":["#4050f0","#2e9a2e"]},"legend":{"orient":"top-right"}}}},
   {"data":{"name":"bounds"},"transform":[{"filter":"datum.p==='A1'"}],"mark":{"type":"point","filled":true,"color":"#ff1a1a","size":10,"opacity":1},"encoding":{"x":{"field":"tx","type":"quantitative"},"y":{"field":"ty","type":"quantitative"}}},
   {"data":{"values":[{}]},"mark":{"type":"rect","filled":false,"stroke":"#2a2a2a","strokeWidth":1.6},"encoding":{"x":{"datum":-10.03},"x2":{"datum":23.62},"y":{"datum":6.36},"y2":{"datum":-5.49}}},
   {"data":{"values":[{}]},"mark":{"type":"text","fontSize":21,"font":"Liberation Sans","align":"center","baseline":"middle","color":"#111"},"encoding":{"x":{"datum":-8.57},"y":{"datum":-4.31},"text":{"value":"A"}}},
   {"data":{"values":[{}]},"mark":{"type":"text","fontSize":8,"align":"center","baseline":"middle","color":"#333"},"encoding":{"x":{"datum":0},"y":{"datum":5.61},"text":{"value":"β=0.1"}}},
   {"data":{"values":[{}]},"mark":{"type":"text","fontSize":10.5,"font":"Liberation Sans","align":"right","baseline":"middle","color":"#111"},"encoding":{"x":{"datum":13.6},"y":{"datum":7.14},"text":{"value":"Adam + Score Function ("}}},
   {"data":{"values":[{}]},"mark":{"type":"text","fontSize":10.5,"font":"Liberation Sans","fontWeight":"bold","align":"left","baseline":"middle","color":"#111"},"encoding":{"x":{"datum":13.6},"y":{"datum":7.14},"text":{"value":"SGP"}}},
   {"data":{"values":[{}]},"mark":{"type":"text","fontSize":10.5,"font":"Liberation Sans","align":"left","baseline":"middle","color":"#111"},"encoding":{"x":{"datum":17.45},"y":{"datum":7.14},"text":{"value":")"}}}
  ]},
  {"width":70,"height":110,"layer":[
   {"data":{"name":"bounds"},"transform":[{"filter":"datum.p==='A2'"}],"mark":{"type":"rect","filled":false,"stroke":"#ff4d4d","strokeDash":[2,1.5],"strokeWidth":1.3},"encoding":{"x":{"field":"x1","type":"quantitative","scale":{"domain":[-8.4,9.0],"nice":false,"zero":false},"axis":{"values":[-5,0,5],"title":"ẋ"}},"x2":{"field":"x2"},"y":{"field":"y1","type":"quantitative","scale":{"domain":[-13.2,13.2],"nice":false,"zero":false},"axis":{"values":[-10,-5,0,5,10],"title":"θ̇"}},"y2":{"field":"y2"}}},
   {"data":{"name":"traj"},"transform":[{"filter":"datum.p==='A2'"}],"mark":{"type":"line","interpolate":"catmull-rom","strokeWidth":1.2},"encoding":{"x":{"field":"x","type":"quantitative"},"y":{"field":"y","type":"quantitative"},"order":{"field":"i","type":"quantitative"},"color":{"field":"s","type":"nominal","scale":{"domain":["plan","sim"],"range":["#4050f0","#2e9a2e"]},"legend":{"orient":"bottom-left"}}}},
   {"data":{"name":"bounds"},"transform":[{"filter":"datum.p==='A2'"}],"mark":{"type":"point","filled":true,"color":"#ff1a1a","size":10,"opacity":1},"encoding":{"x":{"field":"tx","type":"quantitative"},"y":{"field":"ty","type":"quantitative"}}},
   {"data":{"values":[{}]},"mark":{"type":"text","fontSize":8,"align":"center","baseline":"middle","color":"#333"},"encoding":{"x":{"datum":0.3},"y":{"datum":14.76},"text":{"value":"β=0.1"}}}
  ]},
  {"width":68,"height":110,"layer":[
   {"data":{"name":"bounds"},"transform":[{"filter":"datum.p==='B1'"}],"mark":{"type":"rect","filled":false,"stroke":"#ff4d4d","strokeDash":[2,1.5],"strokeWidth":1.3},"encoding":{"x":{"field":"x1","type":"quantitative","scale":{"domain":[-6.5,5.8],"nice":false,"zero":false},"axis":{"values":[-5,0,5],"title":"x (m)"}},"x2":{"field":"x2"},"y":{"field":"y1","type":"quantitative","scale":{"domain":[-3.53,5.1],"nice":false,"zero":false},"axis":{"values":[-2,0,2,4],"title":"θ"}},"y2":{"field":"y2"}}},
   {"data":{"name":"traj"},"transform":[{"filter":"datum.p==='B1'"}],"mark":{"type":"line","interpolate":"catmull-rom","strokeWidth":1.2},"encoding":{"x":{"field":"x","type":"quantitative"},"y":{"field":"y","type":"quantitative"},"order":{"field":"i","type":"quantitative"},"color":{"field":"s","type":"nominal","scale":{"domain":["plan","sim"],"range":["#4050f0","#2e9a2e"]},"legend":{"orient":"top-right"}}}},
   {"data":{"name":"bounds"},"transform":[{"filter":"datum.p==='B1'"}],"mark":{"type":"point","filled":true,"color":"#ff1a1a","size":10,"opacity":1},"encoding":{"x":{"field":"tx","type":"quantitative"},"y":{"field":"ty","type":"quantitative"}}},
   {"data":{"values":[{}]},"mark":{"type":"rect","filled":false,"stroke":"#2a2a2a","strokeWidth":1.6},"encoding":{"x":{"datum":-10.84},"x2":{"datum":26.97},"y":{"datum":6.36},"y2":{"datum":-5.49}}},
   {"data":{"values":[{}]},"mark":{"type":"text","fontSize":21,"font":"Liberation Sans","align":"center","baseline":"middle","color":"#111"},"encoding":{"x":{"datum":-8.67},"y":{"datum":-4.16},"text":{"value":"B"}}},
   {"data":{"values":[{}]},"mark":{"type":"text","fontSize":8,"align":"center","baseline":"middle","color":"#333"},"encoding":{"x":{"datum":-0.35},"y":{"datum":5.61},"text":{"value":"β=0.05"}}},
   {"data":{"values":[{}]},"mark":{"type":"text","fontSize":10.5,"font":"Liberation Sans","align":"center","baseline":"middle","color":"#111"},"encoding":{"x":{"datum":8.88},"y":{"datum":7.14},"text":{"value":"Adam + Ensemble"}}}
  ]},
  {"width":72,"height":110,"layer":[
   {"data":{"name":"bounds"},"transform":[{"filter":"datum.p==='B2'"}],"mark":{"type":"rect","filled":false,"stroke":"#ff4d4d","strokeDash":[2,1.5],"strokeWidth":1.3},"encoding":{"x":{"field":"x1","type":"quantitative","scale":{"domain":[-15.2,14.1],"nice":false,"zero":false},"axis":{"values":[-10,0,10],"title":"ẋ"}},"x2":{"field":"x2"},"y":{"field":"y1","type":"quantitative","scale":{"domain":[-13.2,13.2],"nice":false,"zero":false},"axis":{"values":[-10,-5,0,5,10],"title":"θ̇"}},"y2":{"field":"y2"}}},
   {"data":{"name":"traj"},"transform":[{"filter":"datum.p==='B2'"}],"mark":{"type":"line","interpolate":"catmull-rom","strokeWidth":1.2},"encoding":{"x":{"field":"x","type":"quantitative"},"y":{"field":"y","type":"quantitative"},"order":{"field":"i","type":"quantitative"},"color":{"field":"s","type":"nominal","scale":{"domain":["plan","sim"],"range":["#4050f0","#2e9a2e"]},"legend":{"orient":"bottom-right"}}}},
   {"data":{"name":"bounds"},"transform":[{"filter":"datum.p==='B2'"}],"mark":{"type":"point","filled":true,"color":"#ff1a1a","size":10,"opacity":1},"encoding":{"x":{"field":"tx","type":"quantitative"},"y":{"field":"ty","type":"quantitative"}}},
   {"data":{"values":[{}]},"mark":{"type":"text","fontSize":8,"align":"center","baseline":"middle","color":"#333"},"encoding":{"x":{"datum":-0.55},"y":{"datum":14.76},"text":{"value":"β=0.05"}}}
  ]},
  {"width":68,"height":110,"layer":[
   {"data":{"name":"bounds"},"transform":[{"filter":"datum.p==='C1'"}],"mark":{"type":"rect","filled":false,"stroke":"#ff4d4d","strokeDash":[2,1.5],"strokeWidth":1.3},"encoding":{"x":{"field":"x1","type":"quantitative","scale":{"domain":[-23.7,6.3],"nice":false,"zero":false},"axis":{"values":[-20,-10,0],"title":"x (m)"}},"x2":{"field":"x2"},"y":{"field":"y1","type":"quantitative","scale":{"domain":[-3.53,5.1],"nice":false,"zero":false},"axis":{"values":[-2,0,2,4],"title":"θ"}},"y2":{"field":"y2"}}},
   {"data":{"name":"traj"},"transform":[{"filter":"datum.p==='C1'"}],"mark":{"type":"line","interpolate":"catmull-rom","strokeWidth":1.2},"encoding":{"x":{"field":"x","type":"quantitative"},"y":{"field":"y","type":"quantitative"},"order":{"field":"i","type":"quantitative"},"color":{"field":"s","type":"nominal","scale":{"domain":["plan","sim"],"range":["#4050f0","#2e9a2e"]},"legend":{"orient":"top-right"}}}},
   {"data":{"name":"bounds"},"transform":[{"filter":"datum.p==='C1'"}],"mark":{"type":"point","filled":true,"color":"#ff1a1a","size":10,"opacity":1},"encoding":{"x":{"field":"tx","type":"quantitative"},"y":{"field":"ty","type":"quantitative"}}},
   {"data":{"values":[{}]},"mark":{"type":"rect","filled":false,"stroke":"#2a2a2a","strokeWidth":1.6},"encoding":{"x":{"datum":-34.29},"x2":{"datum":58.35},"y":{"datum":6.36},"y2":{"datum":-5.49}}},
   {"data":{"values":[{}]},"mark":{"type":"text","fontSize":21,"font":"Liberation Sans","align":"center","baseline":"middle","color":"#111"},"encoding":{"x":{"datum":-27.23},"y":{"datum":-4.24},"text":{"value":"C"}}},
   {"data":{"values":[{}]},"mark":{"type":"text","fontSize":8,"align":"center","baseline":"middle","color":"#333"},"encoding":{"x":{"datum":-8.7},"y":{"datum":5.61},"text":{"value":"β=0.0"}}},
   {"data":{"values":[{}]},"mark":{"type":"text","fontSize":10.5,"font":"Liberation Sans","align":"center","baseline":"middle","color":"#111"},"encoding":{"x":{"datum":12.91},"y":{"datum":7.14},"text":{"value":"Adam (Vanilla MBRL)"}}}
  ]},
  {"width":71,"height":110,"layer":[
   {"data":{"name":"bounds"},"transform":[{"filter":"datum.p==='C2'"}],"mark":{"type":"rect","filled":false,"stroke":"#ff4d4d","strokeDash":[2,1.5],"strokeWidth":1.3},"encoding":{"x":{"field":"x1","type":"quantitative","scale":{"domain":[-30,34.5],"nice":false,"zero":false},"axis":{"values":[-25,0,25],"title":"ẋ"}},"x2":{"field":"x2"},"y":{"field":"y1","type":"quantitative","scale":{"domain":[-13.2,13.2],"nice":false,"zero":false},"axis":{"values":[-10,-5,0,5,10],"title":"θ̇"}},"y2":{"field":"y2"}}},
   {"data":{"name":"traj"},"transform":[{"filter":"datum.p==='C2'"}],"mark":{"type":"line","interpolate":"catmull-rom","strokeWidth":1.2},"encoding":{"x":{"field":"x","type":"quantitative"},"y":{"field":"y","type":"quantitative"},"order":{"field":"i","type":"quantitative"},"color":{"field":"s","type":"nominal","scale":{"domain":["plan","sim"],"range":["#4050f0","#2e9a2e"]},"legend":{"orient":"bottom-right"}}}},
   {"data":{"name":"bounds"},"transform":[{"filter":"datum.p==='C2'"}],"mark":{"type":"point","filled":true,"color":"#ff1a1a","size":10,"opacity":1},"encoding":{"x":{"field":"tx","type":"quantitative"},"y":{"field":"ty","type":"quantitative"}}},
   {"data":{"values":[{}]},"mark":{"type":"text","fontSize":8,"align":"center","baseline":"middle","color":"#333"},"encoding":{"x":{"datum":2.25},"y":{"datum":14.76},"text":{"value":"β=0.0"}}}
  ]}
 ],"spacing":36,"bounds":"flush","resolve":{"scale":{"color":"independent"}}},
{"hconcat":[
  {"width":68,"height":113,"layer":[
   {"data":{"name":"bounds"},"transform":[{"filter":"datum.p==='D1'"}],"mark":{"type":"rect","filled":false,"stroke":"#ff4d4d","strokeDash":[2,1.5],"strokeWidth":1.3},"encoding":{"x":{"field":"x1","type":"quantitative","scale":{"domain":[-5.5,5.5],"nice":false,"zero":false},"axis":{"values":[-5,0,5],"title":"x (m)"}},"x2":{"field":"x2"},"y":{"field":"y1","type":"quantitative","scale":{"domain":[-3.53,5.1],"nice":false,"zero":false},"axis":{"values":[-2,0,2,4],"title":"θ"}},"y2":{"field":"y2"}}},
   {"data":{"name":"traj"},"transform":[{"filter":"datum.p==='D1'"}],"mark":{"type":"line","interpolate":"catmull-rom","strokeWidth":1.2},"encoding":{"x":{"field":"x","type":"quantitative"},"y":{"field":"y","type":"quantitative"},"order":{"field":"i","type":"quantitative"},"color":{"field":"s","type":"nominal","scale":{"domain":["plan","sim"],"range":["#4050f0","#2e9a2e"]},"legend":{"orient":"top-right"}}}},
   {"data":{"name":"bounds"},"transform":[{"filter":"datum.p==='D1'"}],"mark":{"type":"point","filled":true,"color":"#ff1a1a","size":10,"opacity":1},"encoding":{"x":{"field":"tx","type":"quantitative"},"y":{"field":"ty","type":"quantitative"}}},
   {"data":{"values":[{}]},"mark":{"type":"rule","color":"#a0a0a0","strokeWidth":2.5},"encoding":{"x":{"datum":-5.5},"x2":{"datum":5.5},"y":{"datum":5.1}}},
   {"data":{"values":[{}]},"mark":{"type":"rect","filled":false,"stroke":"#2a2a2a","strokeWidth":1.6},"encoding":{"x":{"datum":-10.03},"x2":{"datum":23.46},"y":{"datum":5.94},"y2":{"datum":-5.21}}},
   {"data":{"values":[{}]},"mark":{"type":"text","fontSize":21,"font":"Liberation Sans","align":"center","baseline":"middle","color":"#111"},"encoding":{"x":{"datum":-8.25},"y":{"datum":-4.22},"text":{"value":"D"}}},
   {"data":{"values":[{}]},"mark":{"type":"text","fontSize":8,"align":"center","baseline":"middle","color":"#333"},"encoding":{"x":{"datum":0},"y":{"datum":5.44},"text":{"value":"β=0.05"}}},
   {"data":{"values":[{}]},"mark":{"type":"text","fontSize":10.5,"font":"Liberation Sans","align":"center","baseline":"middle","color":"#111"},"encoding":{"x":{"datum":5.26},"y":{"datum":6.73},"text":{"value":"CEM + DataDistance"}}}
  ]},
  {"width":71,"height":113,"layer":[
   {"data":{"name":"bounds"},"transform":[{"filter":"datum.p==='D2'"}],"mark":{"type":"rect","filled":false,"stroke":"#ff4d4d","strokeDash":[2,1.5],"strokeWidth":1.3},"encoding":{"x":{"field":"x1","type":"quantitative","scale":{"domain":[-10.6,11.3],"nice":false,"zero":false},"axis":{"values":[-10,0,10],"title":"ẋ"}},"x2":{"field":"x2"},"y":{"field":"y1","type":"quantitative","scale":{"domain":[-13.2,13.2],"nice":false,"zero":false},"axis":{"values":[-10,-5,0,5,10],"title":"θ̇"}},"y2":{"field":"y2"}}},
   {"data":{"name":"traj"},"transform":[{"filter":"datum.p==='D2'"}],"mark":{"type":"line","interpolate":"catmull-rom","strokeWidth":1.2},"encoding":{"x":{"field":"x","type":"quantitative"},"y":{"field":"y","type":"quantitative"},"order":{"field":"i","type":"quantitative"},"color":{"field":"s","type":"nominal","scale":{"domain":["plan","sim"],"range":["#4050f0","#2e9a2e"]},"legend":{"orient":"bottom-right"}}}},
   {"data":{"name":"bounds"},"transform":[{"filter":"datum.p==='D2'"}],"mark":{"type":"point","filled":true,"color":"#ff1a1a","size":10,"opacity":1},"encoding":{"x":{"field":"tx","type":"quantitative"},"y":{"field":"ty","type":"quantitative"}}},
   {"data":{"values":[{}]},"mark":{"type":"rule","color":"#a0a0a0","strokeWidth":2.5},"encoding":{"x":{"datum":-10.6},"x2":{"datum":11.3},"y":{"datum":13.2}}},
   {"data":{"values":[{}]},"mark":{"type":"text","fontSize":8,"align":"center","baseline":"middle","color":"#333"},"encoding":{"x":{"datum":0.35},"y":{"datum":14.25},"text":{"value":"β=0.05"}}}
  ]},
  {"width":67,"height":113,"layer":[
   {"data":{"name":"bounds"},"transform":[{"filter":"datum.p==='E1'"}],"mark":{"type":"rect","filled":false,"stroke":"#ff4d4d","strokeDash":[2,1.5],"strokeWidth":1.3},"encoding":{"x":{"field":"x1","type":"quantitative","scale":{"domain":[-5.8,5.5],"nice":false,"zero":false},"axis":{"values":[-5,0,5],"title":"x (m)"}},"x2":{"field":"x2"},"y":{"field":"y1","type":"quantitative","scale":{"domain":[-3.53,5.1],"nice":false,"zero":false},"axis":{"values":[-2,0,2,4],"title":"θ"}},"y2":{"field":"y2"}}},
   {"data":{"name":"traj"},"transform":[{"filter":"datum.p==='E1'"}],"mark":{"type":"line","interpolate":"catmull-rom","strokeWidth":1.2},"encoding":{"x":{"field":"x","type":"quantitative"},"y":{"field":"y","type":"quantitative"},"order":{"field":"i","type":"quantitative"},"color":{"field":"s","type":"nominal","scale":{"domain":["plan","sim"],"range":["#4050f0","#2e9a2e"]},"legend":{"orient":"top-right"}}}},
   {"data":{"name":"bounds"},"transform":[{"filter":"datum.p==='E1'"}],"mark":{"type":"point","filled":true,"color":"#ff1a1a","size":10,"opacity":1},"encoding":{"x":{"field":"tx","type":"quantitative"},"y":{"field":"ty","type":"quantitative"}}},
   {"data":{"values":[{}]},"mark":{"type":"rule","color":"#a0a0a0","strokeWidth":2.5},"encoding":{"x":{"datum":-5.8},"x2":{"datum":5.5},"y":{"datum":5.1}}},
   {"data":{"values":[{}]},"mark":{"type":"rect","filled":false,"stroke":"#2a2a2a","strokeWidth":1.6},"encoding":{"x":{"datum":-9.85},"x2":{"datum":25.23},"y":{"datum":5.86},"y2":{"datum":-5.44}}},
   {"data":{"values":[{}]},"mark":{"type":"text","fontSize":21,"font":"Liberation Sans","align":"center","baseline":"middle","color":"#111"},"encoding":{"x":{"datum":-7.66},"y":{"datum":-4.29},"text":{"value":"E"}}},
   {"data":{"values":[{}]},"mark":{"type":"text","fontSize":8,"align":"center","baseline":"middle","color":"#333"},"encoding":{"x":{"datum":-0.15},"y":{"datum":5.44},"text":{"value":"β=0.0"}}},
   {"data":{"values":[{}]},"mark":{"type":"text","fontSize":10.5,"font":"Liberation Sans","align":"center","baseline":"middle","color":"#111"},"encoding":{"x":{"datum":8.62},"y":{"datum":6.55},"text":{"value":"CEM + Ensemble"}}}
  ]},
  {"width":71,"height":113,"layer":[
   {"data":{"name":"bounds"},"transform":[{"filter":"datum.p==='E2'"}],"mark":{"type":"rect","filled":false,"stroke":"#ff4d4d","strokeDash":[2,1.5],"strokeWidth":1.3},"encoding":{"x":{"field":"x1","type":"quantitative","scale":{"domain":[-13.9,12.5],"nice":false,"zero":false},"axis":{"values":[-10,0,10],"title":"ẋ"}},"x2":{"field":"x2"},"y":{"field":"y1","type":"quantitative","scale":{"domain":[-13.2,13.2],"nice":false,"zero":false},"axis":{"values":[-10,-5,0,5,10],"title":"θ̇"}},"y2":{"field":"y2"}}},
   {"data":{"name":"traj"},"transform":[{"filter":"datum.p==='E2'"}],"mark":{"type":"line","interpolate":"catmull-rom","strokeWidth":1.2},"encoding":{"x":{"field":"x","type":"quantitative"},"y":{"field":"y","type":"quantitative"},"order":{"field":"i","type":"quantitative"},"color":{"field":"s","type":"nominal","scale":{"domain":["plan","sim"],"range":["#4050f0","#2e9a2e"]},"legend":{"orient":"bottom-right"}}}},
   {"data":{"name":"bounds"},"transform":[{"filter":"datum.p==='E2'"}],"mark":{"type":"point","filled":true,"color":"#ff1a1a","size":10,"opacity":1},"encoding":{"x":{"field":"tx","type":"quantitative"},"y":{"field":"ty","type":"quantitative"}}},
   {"data":{"values":[{}]},"mark":{"type":"rule","color":"#a0a0a0","strokeWidth":2.5},"encoding":{"x":{"datum":-13.9},"x2":{"datum":12.5},"y":{"datum":13.2}}},
   {"data":{"values":[{}]},"mark":{"type":"text","fontSize":8,"align":"center","baseline":"middle","color":"#333"},"encoding":{"x":{"datum":-0.7},"y":{"datum":14.25},"text":{"value":"β=0.0"}}}
  ]},
  {"title":{"text":"Iterations","offset":4},
  "width":174,"height":124,
  "layer":[
   {"data":{"name":"cost"},"transform":[{"filter":"datum.m==='CEM with DataDistance.'"}],"mark":{"type":"line","strokeWidth":2.6,"opacity":0.9},"encoding":{
     "x":{"field":"it","type":"quantitative","scale":{"domain":[-3500,52000],"nice":false,"zero":false},"axis":{"values":[0,10000,20000,30000,40000,50000],"format":"d","labelOverlap":false,"labelSeparation":0,"labelFlush":false,"title":"Iteration","titleX":140,"titleY":-12,"labelFontSize":7.8}},
     "y":{"field":"c","type":"quantitative","scale":{"type":"log","domain":[0.0525,10.9],"nice":false},"axis":{"values":[0.1,1,10],"labelExpr":"datum.value>5?'10¹':(datum.value>0.5?'10⁰':'10⁻¹')","title":"Cost","titleX":12,"titleY":70,"labelFontSize":8}},
     "color":{"field":"m","type":"nominal","scale":{"domain":["Adam with ScoreFunction.","Adam with ensemble.","CEM with ensemble.","CEM with DataDistance."],"range":["#3cf08a","#ff3030","#5565ee","#d9c2a8"]},"legend":{"orient":"none","legendX":41,"legendY":37,"labelFontSize":8,"symbolSize":230,"rowPadding":0,"padding":3,"symbolStrokeWidth":1.5}}}},
   {"data":{"name":"cost"},"transform":[{"filter":"datum.m!=='CEM with DataDistance.'"}],"mark":{"type":"line","strokeWidth":1.2},"encoding":{
     "x":{"field":"it","type":"quantitative","axis":{"values":[0,10000,20000,30000,40000,50000],"format":"d","labelOverlap":false,"labelSeparation":0,"labelFlush":false,"title":"Iteration","titleX":140,"titleY":-12,"labelFontSize":7.8}},
     "y":{"field":"c","type":"quantitative","axis":{"values":[0.1,1,10],"labelExpr":"datum.value>5?'10¹':(datum.value>0.5?'10⁰':'10⁻¹')","title":"Cost","titleX":12,"titleY":70,"labelFontSize":8}},
     "color":{"field":"m","type":"nominal"}}},
   {"data":{"values":[{}]},"mark":{"type":"rect","filled":false,"stroke":"#2a2a2a","strokeWidth":1.6},"encoding":{"x":{"datum":-10837},"x2":{"datum":56153},"y":{"datum":16.75},"y2":{"datum":0.0287}}},
   {"data":{"values":[{}]},"mark":{"type":"text","fontSize":21,"font":"Liberation Sans","align":"center","baseline":"middle","color":"#111"},"encoding":{"x":{"datum":-7328},"y":{"datum":0.0503},"text":{"value":"F"}}}
  ]}
 ],"spacing":36,"bounds":"flush","resolve":{"scale":{"color":"independent"}}}
]
}
